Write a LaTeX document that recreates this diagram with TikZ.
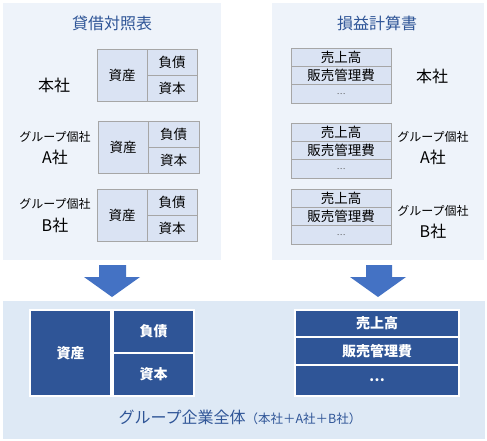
\documentclass[tikz,border=0pt]{standalone}
\usepackage{fontspec}
\setmainfont{Noto Sans CJK JP}
\begin{document}
\begin{tikzpicture}[x=1pt,y=-1pt,
  panel/.style={fill=panelbg,draw=none},
  cell/.style={draw=cellline,fill=cellfill,line width=0.9pt,inner sep=0pt,font=\fontsize{13.5}{15}\selectfont,text=black},
  dcell/.style={draw=white,fill=darkblue,line width=1.2pt,inner sep=0pt,font=\fontsize{14}{16}\selectfont\bfseries,text=white},
  title/.style={font=\fontsize{16}{18}\selectfont,text=titleblue},
  big/.style={font=\fontsize{16}{18}\selectfont,text=black,inner sep=0pt},
  small/.style={font=\fontsize{12}{14}\selectfont,text=black,inner sep=0pt},
  bigarrow/.style={fill=arrowblue,draw=none}]
\definecolor{panelbg}{HTML}{EEF3FA}
\definecolor{bottombg}{HTML}{DEE9F5}
\definecolor{cellfill}{HTML}{DAE3F3}
\definecolor{cellline}{HTML}{A6A6A6}
\definecolor{darkblue}{HTML}{2F5597}
\definecolor{arrowblue}{HTML}{4472C4}
\definecolor{titleblue}{HTML}{2F5597}
\useasboundingbox (0,0) rectangle (487,441);
\fill[white] (0,0) rectangle (487,441);
% panels
\path[panel] (3,3) rectangle (221,260);
\path[panel] (272,3) rectangle (484,260);
\path[fill=bottombg] (3,301) rectangle (485,439);
% titles
\node[title] (bstitle) at (112,23) {貸借対照表};
\node[title] (pltitle) at (377,23) {損益計算書};
% BS boxes
\node[cell,minimum width=50pt,minimum height=52pt] (a1) at (122,75) {資産};
\node[cell,minimum width=50pt,minimum height=26pt] (l1) at (172,62) {負債};
\node[cell,minimum width=50pt,minimum height=26pt] (c1) at (172,88) {資本};
\node[cell,minimum width=50pt,minimum height=52pt] (a2) at (123,147) {資産};
\node[cell,minimum width=51pt,minimum height=26pt] (l2) at (173.5,134) {負債};
\node[cell,minimum width=51pt,minimum height=26pt] (c2) at (173.5,160) {資本};
\node[cell,minimum width=50pt,minimum height=52pt] (a3) at (122,215) {資産};
\node[cell,minimum width=50pt,minimum height=26pt] (l3) at (172,202) {負債};
\node[cell,minimum width=50pt,minimum height=26pt] (c3) at (172,228) {資本};
% BS labels
\node[big] (hq1) at (54,85) {本社};
\node[small] (ga1) at (55,137) {グループ個社};
\node[big] (ac1) at (55,157) {A社};
\node[small] (gb1) at (55,204) {グループ個社};
\node[big] (bc1) at (55,225) {B社};
% PL boxes
\foreach \t/\n in {48/1,123/2,189/3}{
  \node[cell,minimum width=100pt,minimum height=18.33pt] (s\n) at (341,\t+9.17) {売上高};
  \node[cell,minimum width=100pt,minimum height=18.33pt] (m\n) at (341,\t+27.5) {販売管理費};
  \node[cell,minimum width=100pt,minimum height=18.33pt,font=\fontsize{8}{9}\selectfont,text=black!70] (e\n) at (341,\t+45.83) {…};
}
% PL labels
\node[big] (hq2) at (432,76) {本社};
\node[small] (ga2) at (433,137) {グループ個社};
\node[big] (ac2) at (433,157) {A社};
\node[small] (gb2) at (433,211) {グループ個社};
\node[big] (bc2) at (433,231) {B社};
% arrows
\path[bigarrow] (99,265) -- (126,265) -- (126,277) -- (140,277) -- (112,297) -- (84,277) -- (99,277) -- cycle;
\path[bigarrow] (366,265) -- (392,265) -- (392,277) -- (406,277) -- (378,297) -- (350,277) -- (366,277) -- cycle;
% consolidated BS
\node[dcell,minimum width=81pt,minimum height=86pt] (ta) at (70.5,353) {資産};
\node[dcell,minimum width=81pt,minimum height=43pt] (tl) at (153.5,331.5) {負債};
\node[dcell,minimum width=81pt,minimum height=43pt] (tc) at (153.5,374.5) {資本};
% consolidated PL
\node[dcell,minimum width=164pt,minimum height=27pt] (ts) at (377,323.5) {売上高};
\node[dcell,minimum width=164pt,minimum height=28pt] (tm) at (377,351) {販売管理費};
\node[dcell,minimum width=164pt,minimum height=31pt] (te) at (377,380.5) {…};
% group label
\node[text=titleblue,inner sep=0pt] (grp) at (240,417) {\fontsize{16}{18}\selectfont グループ企業全体\fontsize{12.5}{14}\selectfont（本社＋A社＋B社）};
\end{tikzpicture}
\end{document}
